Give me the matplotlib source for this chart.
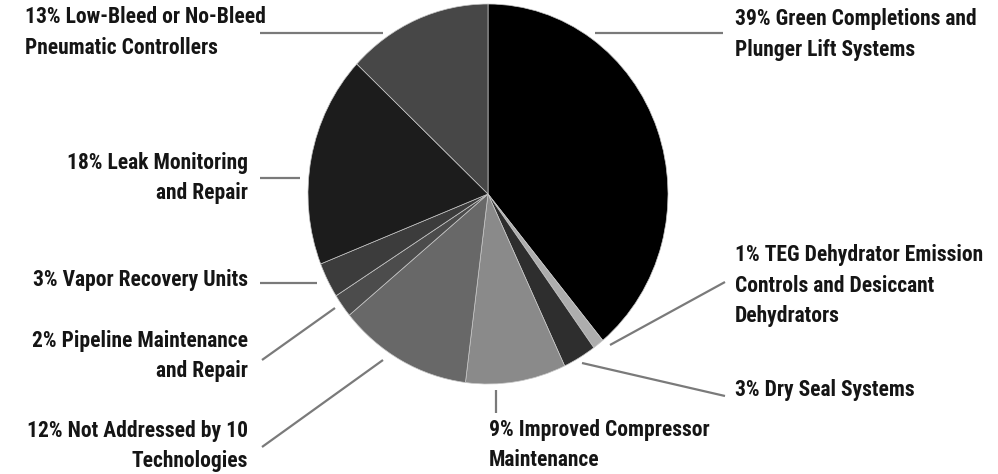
import matplotlib.pyplot as plt

# data
labels = ['39% Green Completions and\nPlunger Lift Systems',
          '1% TEG Dehydrator Emission\nControls and Desiccant\nDehydrators',
          '3% Dry Seal Systems',
          '9% Improved Compressor\nMaintenance',
          '12% Not Addressed by 10\nTechnologies',
          '2% Pipeline Maintenance\nand Repair',
          '3% Vapor Recovery Units',
          '18% Leak Monitoring\nand Repair',
          '13% Low-Bleed or No-Bleed\nPneumatic Controllers']
shares = [39, 1, 3, 9, 12, 2, 3, 18, 13]
greys = ['#000000', '#adadad', '#2e2e2e', '#8a8a8a', '#686868',
         '#4c4c4c', '#3c3c3c', '#1c1c1c', '#474747']

fam = ['Roboto Condensed', 'Liberation Sans Narrow', 'DejaVu Sans']

W, H = 998, 474
fig = plt.figure(figsize=(W / 100, H / 100), dpi=100)

# pie axes (slightly taller than wide, as in the scan)
cx, cy, rx, ry = 488, 194, 180, 190
pax = fig.add_axes([(cx - rx) / W, (H - cy - ry) / H, 2 * rx / W, 2 * ry / H])
pax.pie(shares, colors=greys, startangle=90, counterclock=False,
        radius=1, wedgeprops=dict(linewidth=0.5, edgecolor='#c8c8c8'))
pax.set_aspect('auto')
pax.set_xlim(-1, 1)
pax.set_ylim(-1, 1)
pax.axis('off')

# overlay in pixel coordinates for labels and leader lines
ax = fig.add_axes([0, 0, 1, 1], zorder=3)
ax.set_xlim(0, W)
ax.set_ylim(H, 0)
ax.axis('off')
ax.patch.set_alpha(0)

# (text x, first line top, ha, leader line points)
layout = [
    (735, 8, 'left', [(595, 33), (723, 33)]),
    (735, 244, 'left', [(610, 345), (725, 282)]),
    (735, 379, 'left', [(582, 363), (725, 396)]),
    (489, 419, 'left', [(496, 390), (496, 413)]),
    (248, 420, 'right', [(383, 360), (262, 447)]),
    (248, 330, 'right', [(335, 308), (262, 360)]),
    (248, 269, 'right', [(317, 283), (260, 283)]),
    (248, 152, 'right', [(300, 178), (260, 178)]),
    (25, 6, 'left', [(383, 33), (260, 33)]),
]

for lab, (tx, ty, ha, pts) in zip(labels, layout):
    ax.text(tx, ty, lab, ha=ha, va='top', fontsize=15.5, fontweight='bold',
            family=fam, color='#151515', linespacing=1.5, multialignment=ha)
    xs, ys = zip(*pts)
    ax.plot(xs, ys, color='#7a7a7a', lw=1.6, solid_capstyle='butt')

fig.savefig('out.png', dpi=100)
